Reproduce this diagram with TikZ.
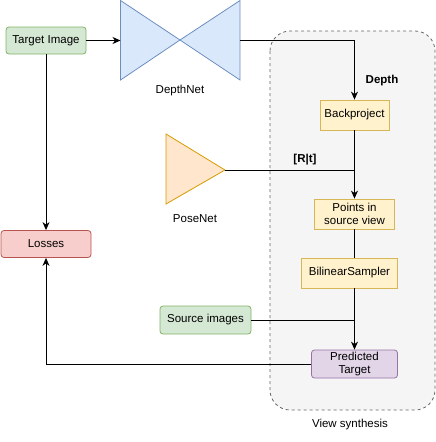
\documentclass[tikz,border=0pt]{standalone}
\usepackage{fontspec}
\setmainfont{Liberation Sans}
\usetikzlibrary{arrows.meta,positioning}

\definecolor{greenfill}{HTML}{D5E8D4}
\definecolor{greenline}{HTML}{82B366}
\definecolor{bluefill}{HTML}{DAE8FC}
\definecolor{blueline}{HTML}{6C8EBF}
\definecolor{orangefill}{HTML}{FFE6CC}
\definecolor{orangeline}{HTML}{D79B00}
\definecolor{yellowfill}{HTML}{FFF2CC}
\definecolor{yellowline}{HTML}{D6B656}
\definecolor{redfill}{HTML}{F8CECC}
\definecolor{redline}{HTML}{B85450}
\definecolor{purplefill}{HTML}{E1D5E7}
\definecolor{purpleline}{HTML}{9673A6}
\definecolor{groupfill}{HTML}{F5F5F5}
\definecolor{groupline}{HTML}{666666}

\tikzstyle{box} = [rectangle, draw, line width=0.8pt, inner sep=1pt, align=center, font=\fontsize{11.5}{13}\selectfont]
\tikzstyle{inputbox} = [box, rounded corners=3pt, fill=greenfill, draw=greenline]
\tikzstyle{opbox} = [box, fill=yellowfill, draw=yellowline, minimum height=30pt]
\tikzstyle{lossbox} = [box, rounded corners=3pt, fill=redfill, draw=redline]
\tikzstyle{predbox} = [box, rounded corners=3pt, fill=purplefill, draw=purpleline]
\tikzstyle{label} = [font=\fontsize{11.5}{13}\selectfont]
\tikzstyle{link} = [line width=0.9pt]
\tikzstyle{arrow} = [link, -{Stealth[length=8pt,width=7pt,inset=2.5pt]}]

\begin{document}
\begin{tikzpicture}[x=1pt,y=-1pt]
        \useasboundingbox (0,0) rectangle (436,442);
        % View synthesis group in the background
        \draw[fill=groupfill, draw=groupline, dashed, line width=0.8pt, rounded corners=20pt] (270,31) rectangle (435,410);
        \node[label] (vs) at (350,425) {View synthesis};

        % Networks
        \draw[fill=bluefill, draw=blueline, line width=0.8pt] (120.5,0.5) -- (180,40) -- (120.5,80) -- cycle;
        \draw[fill=bluefill, draw=blueline, line width=0.8pt] (240,0.5) -- (180,40) -- (240,80) -- cycle;
        \coordinate (dn-in) at (120.5,40.5);
        \coordinate (dn-out) at (240,40.5);
        \node[label] (dn) at (180,91) {DepthNet};

        \draw[fill=orangefill, draw=orangeline, line width=0.8pt] (166,134) -- (225,170) -- (166,204) -- cycle;
        \coordinate (pn-out) at (225,170.5);
        \node[label] (pn) at (195,219) {PoseNet};

        % Boxes
        \node[inputbox, minimum width=80pt, minimum height=27pt] (ti) at (46,40.5) {Target Image};
        \node[lossbox, minimum width=90pt, minimum height=27pt] (loss) at (46,244) {Losses};
        \node[opbox, minimum width=69pt] (bp) at (354.5,115) {Backproject};
        \node[opbox, minimum width=80pt] (pts) at (354.5,214) {Points in\\source view};
        \node[opbox, minimum width=96pt] (bs) at (349.5,273) {BilinearSampler};
        \node[inputbox, minimum width=91pt, minimum height=28pt] (src) at (205.5,320) {Source images};
        \node[predbox, minimum width=86pt, minimum height=28pt] (pred) at (354.5,364) {Predicted\\Target};

        % Labels on the links
        \node[label, font=\fontsize{11.5}{13}\selectfont\bfseries] (depth) at (382,81) {Depth};
        \node[label, font=\fontsize{11.5}{13}\selectfont\bfseries] (rt) at (305,160) {[R|t]};

        % Links
        \coordinate (rt-join) at (354.5,170.5);
        \coordinate (src-join) at (354.5,320);
        \draw[arrow] (ti.east) -- (dn-in);
        \draw[arrow] (ti.south) -- (loss.north);
        \draw[arrow] (dn-out) -| (bp.north);
        \draw[arrow] (bp.south) -- (pts.north);
        \draw[link] (pn-out) -- (rt-join);
        \draw[link] (pts.south) -- (pts.south |- bs.north);
        \draw[arrow] (bs.south -| pred.north) -- (pred.north);
        \draw[link] (src.east) -- (src-join);
        \draw[arrow] (pred.west) -| (loss.south);
\end{tikzpicture}
\end{document}
